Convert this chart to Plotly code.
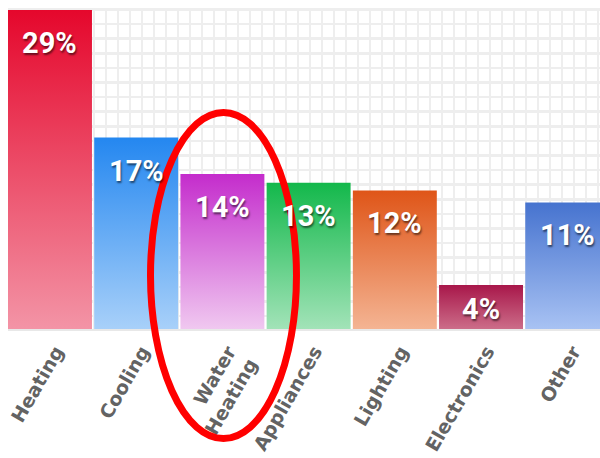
import plotly.graph_objects as go

# ---- data ----
categories = ["Heating", "Cooling", "Water<br>Heating", "Appliances", "Lighting", "Electronics", "Other"]
values = [29.0, 17.4, 14.1, 13.3, 12.6, 4.0, 11.5]
labels = ["29%", "17%", "14%", "13%", "12%", "4%", "11%"]
top_colors = ["#e5072c", "#2487f0", "#c42ccc", "#13b84b", "#df5518", "#a8174a", "#4673cf"]
bottom_colors = ["#f394a6", "#a8d0f9", "#f0c8f0", "#a2e3b8", "#f4b493", "#cc6d89", "#a8c2f3"]

BAR_HALF = 0.487
PX_PER_UNIT = 11.0
fig = go.Figure()

# background grid on overlay pixel-like axes
fig.add_trace(go.Scatter(x=[], y=[], xaxis="x2", yaxis="y2", showlegend=False, hoverinfo="skip"))

for i, (v, ct, cb) in enumerate(zip(values, top_colors, bottom_colors)):
    xs = [i - BAR_HALF, i + BAR_HALF, i + BAR_HALF, i - BAR_HALF, i - BAR_HALF]
    ys = [0, 0, v, v, 0]
    fig.add_trace(go.Scatter(
        x=xs, y=ys, mode="lines", fill="toself",
        line=dict(width=0, color=ct),
        fillgradient=dict(type="vertical", colorscale=[[0, cb], [1, ct]]),
        showlegend=False, hoverinfo="skip",
    ))

for i, (v, t) in enumerate(zip(values, labels)):
    shift = min(33, v * PX_PER_UNIT * 0.55)
    fig.add_annotation(
        x=i, y=v, text=t, showarrow=False, yshift=-shift,
        font=dict(family="Roboto, Liberation Sans, sans-serif", size=29,
                  color="white", weight="bold", shadow="1px 2px 2px rgba(0,0,0,0.55)"),
    )

# red ellipse highlighting Water Heating
fig.add_shape(type="circle", xref="paper", yref="paper",
              x0=0.2407, x1=0.4873, y0=-0.341, y1=0.6745,
              line=dict(color="#ff0000", width=7))

fig.update_layout(
    width=600, height=458,
    margin=dict(l=8, r=0, t=8, b=129, autoexpand=False),
    paper_bgcolor="white", plot_bgcolor="white",
    xaxis=dict(range=[-BAR_HALF, 6.38], tickvals=list(range(len(categories))), ticktext=categories,
               tickangle=-60, showgrid=False, zeroline=False, showline=True, automargin=False,
               linecolor="#e8e8e8", linewidth=2, ticks="", ticklabelshift=6, ticklabelstandoff=2,
               tickfont=dict(family="DejaVu Sans, sans-serif", size=19, color="#636363", weight="bold")),
    yaxis=dict(range=[0, 29.18], showgrid=False, zeroline=False, showticklabels=False, ticks="",
               automargin=False),
    xaxis2=dict(overlaying="x", range=[8, 600], showgrid=True, gridcolor="#eeeeee", gridwidth=2.5,
                tick0=406, dtick=12, showticklabels=False, zeroline=False, ticks=""),
    yaxis2=dict(overlaying="y", range=[329, 8], showgrid=True, gridcolor="#eeeeee", gridwidth=2.5,
                tick0=9.5, dtick=14.6, showticklabels=False, zeroline=False, ticks=""),
    hovermode=False,
)

fig.write_html("out.html", config={"displayModeBar": False, "staticPlot": True},
               post_script="document.body.style.margin='0';document.body.style.overflow='hidden';")
